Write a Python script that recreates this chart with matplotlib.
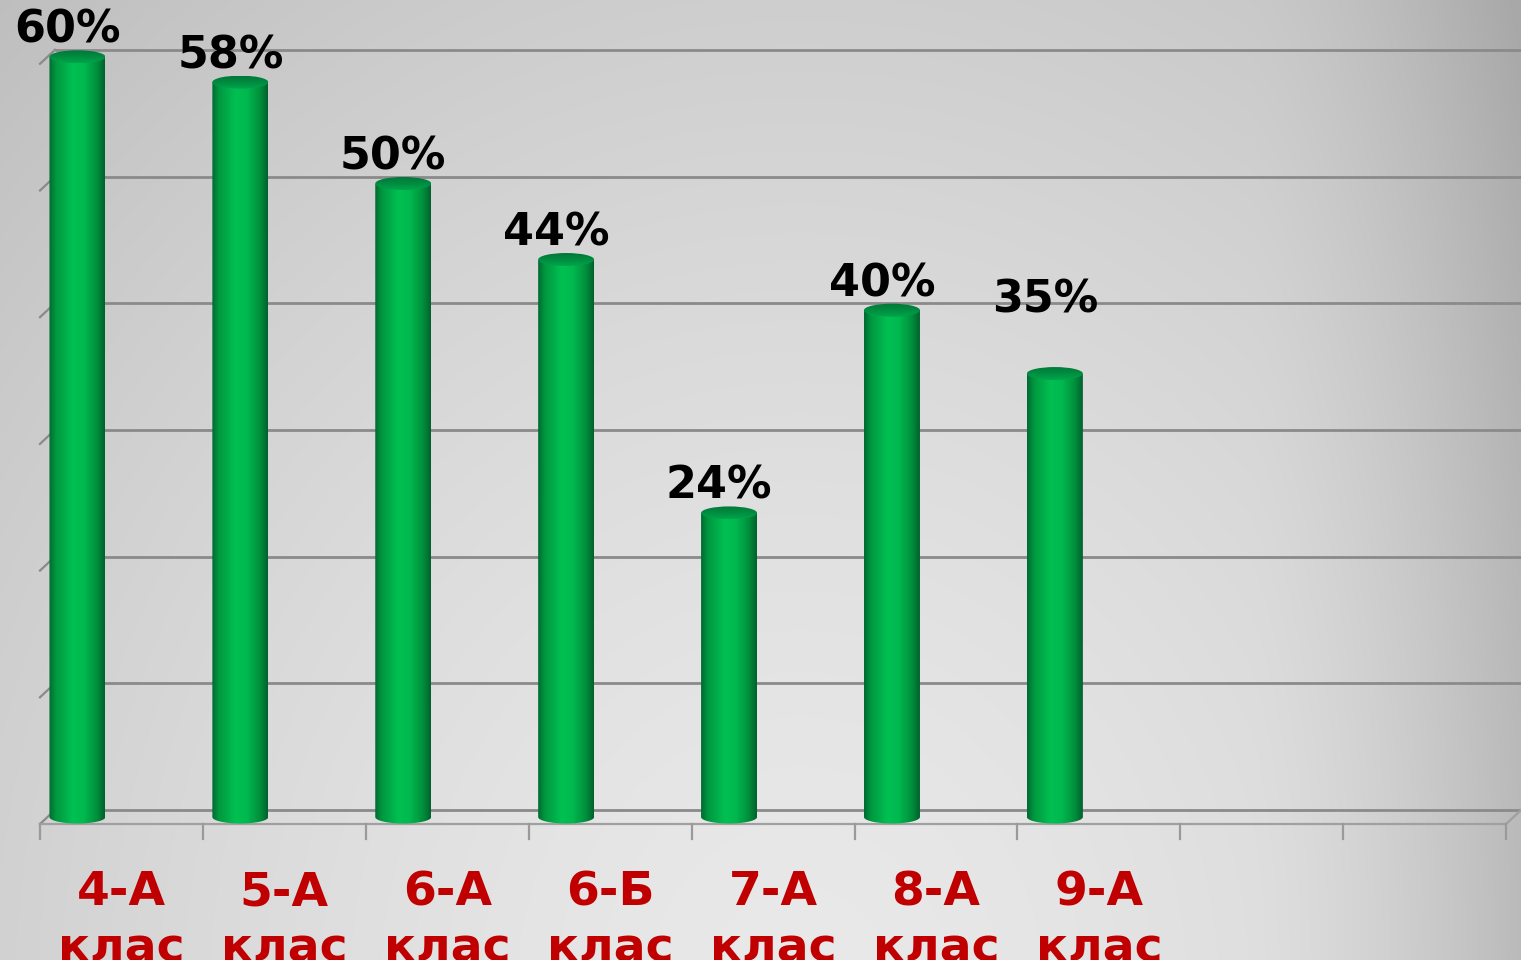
import numpy as np
import matplotlib
matplotlib.use('Agg')
import matplotlib.pyplot as plt
from matplotlib.colors import LinearSegmentedColormap
from matplotlib.patches import Ellipse, PathPatch
from matplotlib.path import Path

# data
categories = ['4-А\nклас', '5-А\nклас', '6-А\nклас', '6-Б\nклас', '7-А\nклас', '8-А\nклас', '9-А\nклас']
values = [0.60, 0.58, 0.50, 0.44, 0.24, 0.40, 0.35]
value_labels = ['60%', '58%', '50%', '44%', '24%', '40%', '35%']
grid_levels = [0.0, 0.1, 0.2, 0.3, 0.4, 0.5, 0.6]
n_slots = 9

# layout (pixels of the 1521x966 picture)
W, H, DPI = 1521, 966, 100
SLOT_PX = 162.9      # width of one category slot
UNIT_PX = 1267.0     # pixels per 1.0 of value
AX_BOTTOM_PX = 6     # white strip at the bottom
AX_H_PX = H - AX_BOTTOM_PX
X0_PX, Y0_PX = 40, 824   # front-left corner of the floor
DEPTH_X, DEPTH_Y = 15, 14
BAR_SHIFT = -0.313
label_nudge_px = {6: 47}   # 35% label was moved up by hand
CAT_BASELINES_PX = [905, 961]


def px_x(p):
    return p / SLOT_PX


def px_y(p):
    return p / UNIT_PX


fig = plt.figure(figsize=(W / DPI, H / DPI), dpi=DPI)
fig.patch.set_facecolor('white')
ax = fig.add_axes([0, AX_BOTTOM_PX / H, 1, AX_H_PX / H])
ax.axis('off')
xlim = (-X0_PX / SLOT_PX, (W - X0_PX) / SLOT_PX)
ylim = ((Y0_PX - AX_H_PX) / UNIT_PX, Y0_PX / UNIT_PX)

# grey background, lighter low in the middle, darker to the right
gx, gy = np.meshgrid(np.linspace(0, W, 380), np.linspace(0, AX_H_PX, 240))
r = np.hypot((gx - 800) / 1000, (gy - 1000) / 1150)
grey = 233 - 33 * r ** 1.5
grey -= 26 * np.clip((gx - 1250) / 270, 0, 1) ** 1.5
grey = np.clip(grey, 168, 235) / 255.0
bg = np.dstack([grey, grey, grey])
ax.imshow(bg, extent=[xlim[0], xlim[1], ylim[0], ylim[1]], origin='upper',
          aspect='auto', interpolation='bilinear', zorder=0)

# back wall grid lines and left wall slants
ddx, ddy = px_x(DEPTH_X), px_y(DEPTH_Y)
for v in grid_levels:
    ax.plot([ddx, n_slots + ddx], [v + ddy, v + ddy], color='#8a8a8a', lw=2.0,
            solid_capstyle='butt', zorder=1)
    ax.plot([0, ddx], [v, v + ddy], color='#8a8a8a', lw=1.6, zorder=1)

# floor front edge, right edge and ticks
ax.plot([0, n_slots], [0, 0], color='#a0a0a0', lw=1.6, zorder=1)
ax.plot([n_slots, n_slots + ddx], [0, ddy], color='#a0a0a0', lw=1.6, zorder=1)
for i in range(n_slots + 1):
    ax.plot([i, i], [0, -px_y(15)], color='#9a9a9a', lw=1.6, zorder=1)

# cylinders
body_cmap = LinearSegmentedColormap.from_list(
    'body', [(0, '#006a32'), (0.12, '#00973f'), (0.42, '#00c052'),
             (0.62, '#00b94f'), (0.86, '#008f3c'), (1, '#00622d')])
top_cmap = LinearSegmentedColormap.from_list('top', ['#00773a', '#008c40', '#00a54a'])
hw = px_x(28)
eh = px_y(6.5)
bdx, bdy = px_x(7), px_y(7)
for i, v in enumerate(values):
    xc = i + 0.5 + BAR_SHIFT + bdx
    yb = bdy
    yt = v + bdy
    th = np.linspace(np.pi, 2 * np.pi, 60)
    verts = [(xc - hw, yt), (xc - hw, yb)]
    verts += list(zip(xc + hw * np.cos(th), yb + eh * np.sin(th)))
    verts += [(xc + hw, yt), (xc - hw, yt)]
    codes = [Path.MOVETO] + [Path.LINETO] * (len(verts) - 2) + [Path.CLOSEPOLY]
    body = PathPatch(Path(verts, codes), facecolor='none', edgecolor='none', zorder=3)
    ax.add_patch(body)
    im = ax.imshow(np.linspace(0, 1, 200).reshape(1, -1), cmap=body_cmap,
                   extent=[xc - hw, xc + hw, yb - eh, yt], aspect='auto',
                   interpolation='bilinear', zorder=3)
    im.set_clip_path(body)

    cap = Ellipse((xc, yt), 2 * hw, 2 * eh, facecolor='none', edgecolor='none', zorder=4)
    ax.add_patch(cap)
    im2 = ax.imshow(np.linspace(0, 1, 50).reshape(-1, 1), cmap=top_cmap,
                    extent=[xc - hw, xc + hw, yt - eh, yt + eh], origin='upper',
                    aspect='auto', interpolation='bilinear', zorder=4)
    im2.set_clip_path(cap)

    lx = xc - px_x(10)
    ly = yt + px_y(14 + label_nudge_px.get(i, 0))
    ax.text(lx, ly, value_labels[i], ha='center', va='baseline', fontsize=32,
            fontweight='bold', color='black', family='DejaVu Sans', zorder=6)

# category labels, the second line cut off by the bottom edge (as in the original)
for i, lab in enumerate(categories):
    for part, base in zip(lab.split('\n'), CAT_BASELINES_PX):
        ax.text(i + 0.5, -px_y(base - Y0_PX), part, ha='center', va='baseline',
                fontsize=34, fontweight='bold', color='#c00000',
                family='DejaVu Sans', clip_on=True, zorder=6)

ax.set_xlim(*xlim)
ax.set_ylim(*ylim)
fig.savefig('out.png', dpi=DPI)
